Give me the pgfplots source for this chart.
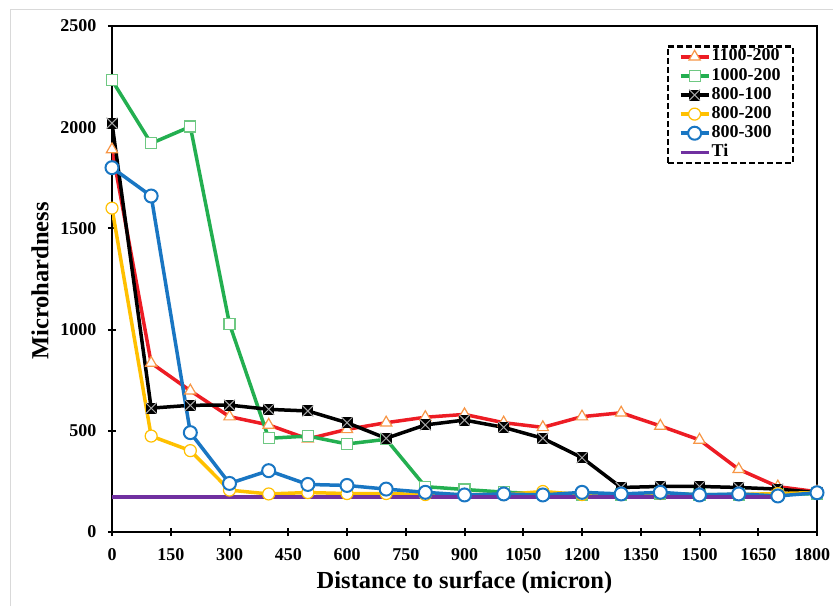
\documentclass[border=0pt]{standalone}
\usepackage{fontspec}
\setmainfont{Liberation Serif}
\usepackage{pgfplots}
\pgfplotsset{compat=1.18}
\definecolor{cred}{RGB}{237,28,36}
\definecolor{cgreen}{RGB}{35,175,80}
\definecolor{cgreenm}{RGB}{110,200,130}
\definecolor{corange}{RGB}{247,150,70}
\definecolor{cyellow}{RGB}{255,192,0}
\definecolor{cblue}{RGB}{25,118,195}
\definecolor{cpurple}{RGB}{112,48,160}
\pgfdeclareplotmark{sqx}{%
  \pgfpathrectangle{\pgfpoint{-\pgfplotmarksize}{-\pgfplotmarksize}}{\pgfpoint{2\pgfplotmarksize}{2\pgfplotmarksize}}%
  \pgfusepathqfill
  \pgfsetstrokecolor{gray!70}%
  \pgfsetlinewidth{1pt}%
  \pgfpathmoveto{\pgfpoint{-\pgfplotmarksize}{-\pgfplotmarksize}}%
  \pgfpathlineto{\pgfpoint{\pgfplotmarksize}{\pgfplotmarksize}}%
  \pgfpathmoveto{\pgfpoint{-\pgfplotmarksize}{\pgfplotmarksize}}%
  \pgfpathlineto{\pgfpoint{\pgfplotmarksize}{-\pgfplotmarksize}}%
  \pgfusepathqstroke}
\begin{document}
\begin{tikzpicture}
\draw[gray!30, line width=0.8pt] (10pt,0pt) -- (10pt,597pt) -- (833pt,597pt);
\begin{axis}[at={(112pt,74pt)}, anchor=south west, scale only axis,
  width=705pt, height=506pt,
  xmin=0, xmax=1800, ymin=0, ymax=2500,
  xtick={0,150,...,1800},
  xticklabels={0,150,300,450,600,750,900,1050,1200,1350,1500,1650,{\makebox[26pt][r]{1800}}},
  ytick distance=500,
  axis line style={line width=2.5pt},
  tick style={black, line width=2pt}, major tick length=8pt, tick align=center,
  xtick pos=bottom, ytick pos=left,
  tick label style={font=\fontsize{18}{20}\selectfont\bfseries},
  xticklabel style={yshift=-9pt},
  yticklabel style={xshift=-8pt},
  /pgf/number format/assume math mode=true, /pgf/number format/1000 sep={},
  xlabel={Distance to surface (micron)}, ylabel={Microhardness},
  label style={font=\fontsize{24.5}{28}\selectfont\bfseries},
  xlabel style={at={(axis description cs:0.5,-0.1)}, anchor=center},
  ylabel style={at={(axis description cs:-0.102,0.496)}, anchor=center},
  legend style={at={(0.9674,0.9624)}, anchor=north east, draw=black,
    dash pattern=on 6pt off 3pt,
    line width=2.5pt, font=\fontsize{18}{20}\selectfont\bfseries,
    inner xsep=11pt, inner ysep=1pt, row sep=0pt,
    nodes={inner sep=1.2pt, text height=12.5pt, text depth=4.2pt}},
  legend cell align=left,
  legend image code/.code={\draw[mark repeat=2,mark phase=2] plot coordinates {(0pt,0pt) (14pt,0pt) (28pt,0pt)};},
]
\addplot[solid, cred, line width=3.5pt, mark=triangle*, mark size=6.5pt,
  mark options={solid, fill=white, draw=corange, line width=1.2pt}] coordinates {
(0,1890)(100,835)(200,698)(300,570)(400,529)(500,460)(600,507)(700,540)(800,567)(900,581)(1000,540)(1100,517)(1200,570)(1300,589)(1400,524)(1500,455)(1600,310)(1700,224)(1800,199)};
\addlegendentry{1100-200}
\addplot[solid, cgreen, line width=3.5pt, mark=square*, mark size=5.5pt,
  mark options={solid, fill=white, draw=cgreenm, line width=1.2pt}] coordinates {
(0,2232)(100,1920)(200,2003)(300,1028)(400,463)(500,474)(600,435)(700,458)(800,224)(900,210)(1000,197)(1100,188)(1200,185)(1300,185)(1400,190)(1500,185)(1600,185)(1700,185)(1800,190)};
\addlegendentry{1000-200}
\addplot[solid, black, line width=3.5pt, mark=sqx, mark size=5.5pt,
  mark options={solid, fill=black}] coordinates {
(0,2020)(100,612)(200,626)(300,627)(400,606)(500,598)(600,540)(700,463)(800,529)(900,553)(1000,517)(1100,463)(1200,367)(1300,220)(1400,225)(1500,225)(1600,220)(1700,212)(1800,195)};
\addlegendentry{800-100}
\addplot[solid, cyellow, line width=3.5pt, mark=*, mark size=6pt,
  mark options={solid, fill=white, draw=cyellow, line width=1.2pt}] coordinates {
(0,1600)(100,474)(200,402)(300,207)(400,188)(500,195)(600,190)(700,190)(800,185)(900,185)(1000,185)(1100,200)(1200,185)(1300,185)(1400,190)(1500,182)(1600,185)(1700,190)(1800,195)};
\addlegendentry{800-200}
\addplot[solid, cblue, line width=3.5pt, mark=*, mark size=6.5pt,
  mark options={solid, fill=white, draw=cblue, line width=2pt}] coordinates {
(0,1800)(100,1660)(200,491)(300,240)(400,303)(500,235)(600,230)(700,212)(800,196)(900,183)(1000,188)(1100,183)(1200,196)(1300,188)(1400,196)(1500,183)(1600,188)(1700,178)(1800,194)};
\addlegendentry{800-300}
\addplot[solid, cpurple, line width=3.5pt, mark=none] coordinates {(0,172)(1700,172)};
\addlegendentry{Ti}
\end{axis}
\pgfresetboundingbox
\path[use as bounding box] (0,0) rectangle (833pt,606pt);
\end{tikzpicture}
\end{document}
